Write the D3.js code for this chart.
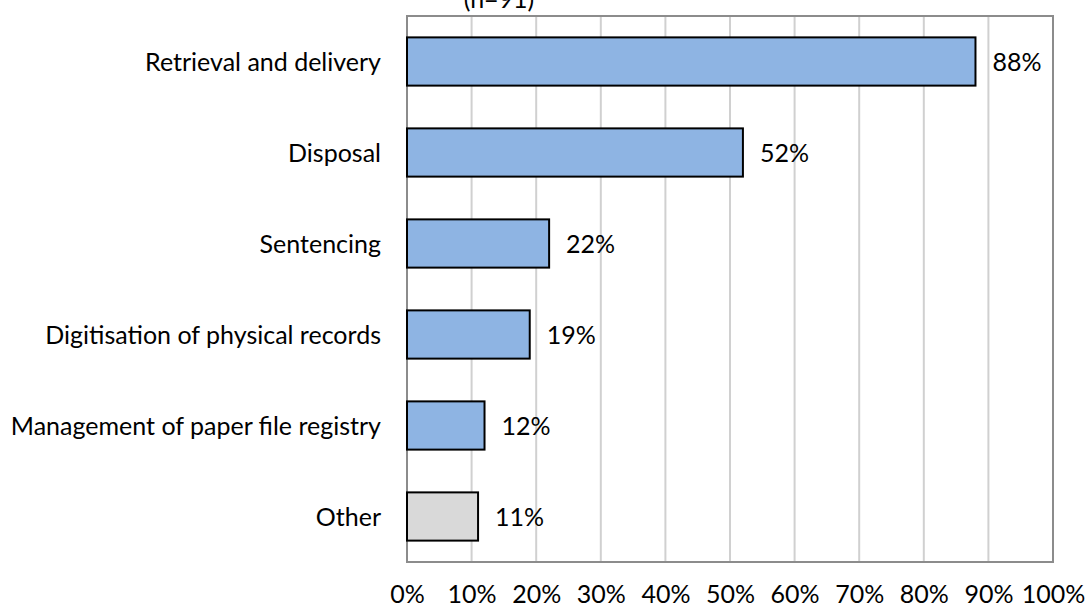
<!DOCTYPE html>
<html>
<head>
<meta charset="utf-8">
<script src="https://cdn.jsdelivr.net/npm/d3@7"></script>
<style>
  html, body { margin: 0; padding: 0; background: #fff; }
  svg text { font-family: Lato, "Open Sans", sans-serif; fill: #000; }
</style>
</head>
<body>
<svg id="chart" width="1086" height="608"></svg>
<script>
const categories = ["Retrieval and delivery", "Disposal", "Sentencing", "Digitisation of physical records", "Management of paper file registry", "Other"];
const values = [88, 52, 22, 19, 12, 11];
const fills = ["#8eb4e3", "#8eb4e3", "#8eb4e3", "#8eb4e3", "#8eb4e3", "#d9d9d9"];
const tickValues = [0, 10, 20, 30, 40, 50, 60, 70, 80, 90, 100];
const titleText = "(n=91)";

const FONT = "Lato, 'Open Sans', sans-serif";
const FS = 25;
const svg = d3.select("#chart");
const margin = { left: 407, right: 33, top: 16, bottom: 46 };
const W = 1086, H = 608;
const x = d3.scaleLinear().domain([0, 100]).range([margin.left, W - margin.right]);
const y = d3.scaleBand().domain(categories).range([margin.top, H - margin.bottom]).paddingInner(0.47).paddingOuter(0.235);

// gridlines
svg.append("g").selectAll("line").data(tickValues.slice(1, -1)).join("line")
  .attr("x1", d => x(d)).attr("x2", d => x(d))
  .attr("y1", margin.top).attr("y2", H - margin.bottom)
  .attr("stroke", "#d0d0d0").attr("stroke-width", 2);

// plot border
svg.append("rect")
  .attr("x", x(0)).attr("y", margin.top)
  .attr("width", x(100) - x(0)).attr("height", H - margin.bottom - margin.top)
  .attr("fill", "none").attr("stroke", "#8c8c8c").attr("stroke-width", 2);

// bars
svg.append("g").selectAll("rect").data(categories).join("rect")
  .attr("x", x(0)).attr("y", d => y(d))
  .attr("width", (d, i) => x(values[i]) - x(0))
  .attr("height", y.bandwidth())
  .attr("fill", (d, i) => fills[i])
  .attr("stroke", "#000").attr("stroke-width", 2);

// value labels
svg.append("g").selectAll("text").data(categories).join("text")
  .attr("x", (d, i) => x(values[i]) + 17)
  .attr("y", d => y(d) + y.bandwidth() / 2)
  .attr("dy", "0.36em")
  .attr("font-size", FS)
  .text((d, i) => values[i] + "%");

// category axis
const yAxis = d3.axisLeft(y).tickSize(0).tickPadding(26);
const gy = svg.append("g").attr("transform", `translate(${x(0)},0)`).call(yAxis);
gy.select(".domain").remove();
gy.selectAll("text").attr("font-size", FS).attr("dy", "0.36em").style("font-family", FONT).attr("fill", "#000");

// value axis
const xAxis = d3.axisBottom(x).tickValues(tickValues).tickFormat(d => d + "%").tickSize(0).tickPadding(23);
const gx = svg.append("g").attr("transform", `translate(0,${H - margin.bottom})`).call(xAxis);
gx.select(".domain").remove();
gx.selectAll("text").attr("font-size", FS).style("font-family", FONT).attr("fill", "#000");

// title (cut at top, as in the reference)
svg.append("text").attr("x", 499).attr("y", 8).attr("text-anchor", "middle")
  .attr("font-size", FS).text(titleText);
</script>
</body>
</html>
